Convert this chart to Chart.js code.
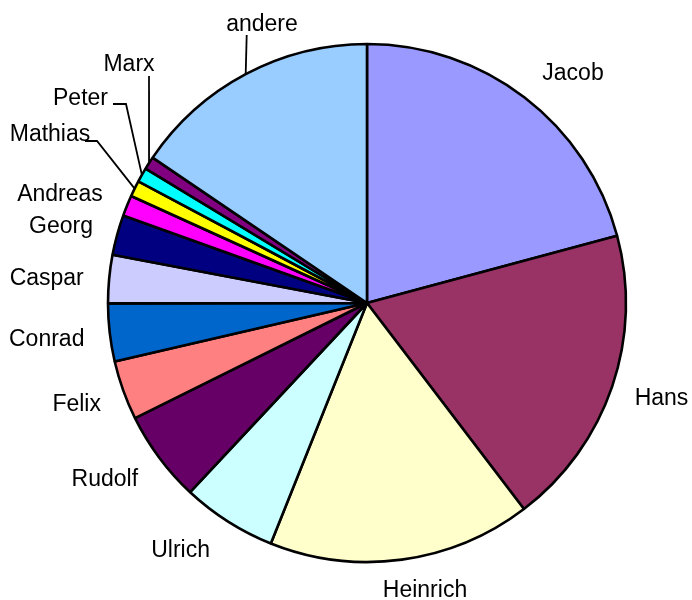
<!DOCTYPE html>
<html>
<head>
<meta charset="utf-8">
<script src="https://cdn.jsdelivr.net/npm/chart.js@4/dist/chart.umd.min.js"></script>
<style>
  html, body { margin: 0; padding: 0; background: #ffffff; }
  #wrap { width: 692px; height: 600px; }
</style>
</head>
<body>
<div id="wrap"><canvas id="c" width="692" height="600"></canvas></div>
<script>
// ---- data ----
const categories = ["Jacob", "Hans", "Heinrich", "Ulrich", "Rudolf", "Felix", "Conrad",
                    "Caspar", "Georg", "Andreas", "Mathias", "Peter", "Marx", "andere"];
const shares = [20.8, 18.8, 16.4, 5.9, 5.7, 3.7, 3.6, 3.0, 2.5, 1.3, 1.0, 0.9, 0.8, 15.5];
const colors = ["#9999FF", "#993366", "#FFFFCC", "#CCFFFF", "#660066", "#FF8080", "#0066CC",
                "#CCCCFF", "#000080", "#FF00FF", "#FFFF00", "#00FFFF", "#800080", "#99CCFF"];

// ---- label layout (offsets from pie centre, at reference radius 259) ----
const REF_R = 259;
const labelOffsets = [
  [206, -223], [294.5, 102], [58, 294], [-186.4, 254], [-262.2, 182.7], [-290.3, 107.7],
  [-320.3, 42.7], [-320.3, -18], [-306, -70], [-307, -102.3], [-317, -162], [-286.5, -198],
  [-238, -232.3], [-105, -272.3]
];
// leader line extra points (after the slice edge point), same units
const leaderPoints = {
  10: [[-270, -162], [-282, -162]],
  11: [[-241, -199], [-254, -199]],
  12: [[-218, -227]],
  13: [[-120.3, -268]]
};

const labelPlugin = {
  id: 'pieLabels',
  afterDatasetsDraw(chart) {
    const ctx = chart.ctx;
    const meta = chart.getDatasetMeta(0);
    ctx.save();
    ctx.font = '23px "Liberation Sans", Arial, sans-serif';
    ctx.fillStyle = '#000';
    ctx.textAlign = 'center';
    ctx.textBaseline = 'alphabetic';
    meta.data.forEach((arc, i) => {
      const p = arc.getProps(['x', 'y', 'startAngle', 'endAngle', 'outerRadius'], true);
      const k = p.outerRadius / REF_R;
      const mid = (p.startAngle + p.endAngle) / 2;
      if (leaderPoints[i]) {
        ctx.beginPath();
        ctx.strokeStyle = '#000';
        ctx.lineWidth = 1.8;
        ctx.moveTo(p.x + Math.cos(mid) * p.outerRadius, p.y + Math.sin(mid) * p.outerRadius);
        leaderPoints[i].forEach(pt => ctx.lineTo(p.x + pt[0] * k, p.y + pt[1] * k));
        ctx.stroke();
      }
      const off = labelOffsets[i];
      ctx.fillText(categories[i], p.x + off[0] * k, p.y + off[1] * k);
    });
    ctx.restore();
  }
};

new Chart(document.getElementById('c'), {
  type: 'pie',
  data: {
    labels: categories,
    datasets: [{
      data: shares,
      backgroundColor: colors,
      borderColor: '#000000',
      borderWidth: 2.6
    }]
  },
  options: {
    responsive: false,
    animation: false,
    radius: 259,
    layout: { padding: { left: 60, right: 18, top: 30, bottom: 24 } },
    plugins: {
      legend: { display: false },
      tooltip: { enabled: false }
    }
  },
  plugins: [labelPlugin]
});
</script>
</body>
</html>
